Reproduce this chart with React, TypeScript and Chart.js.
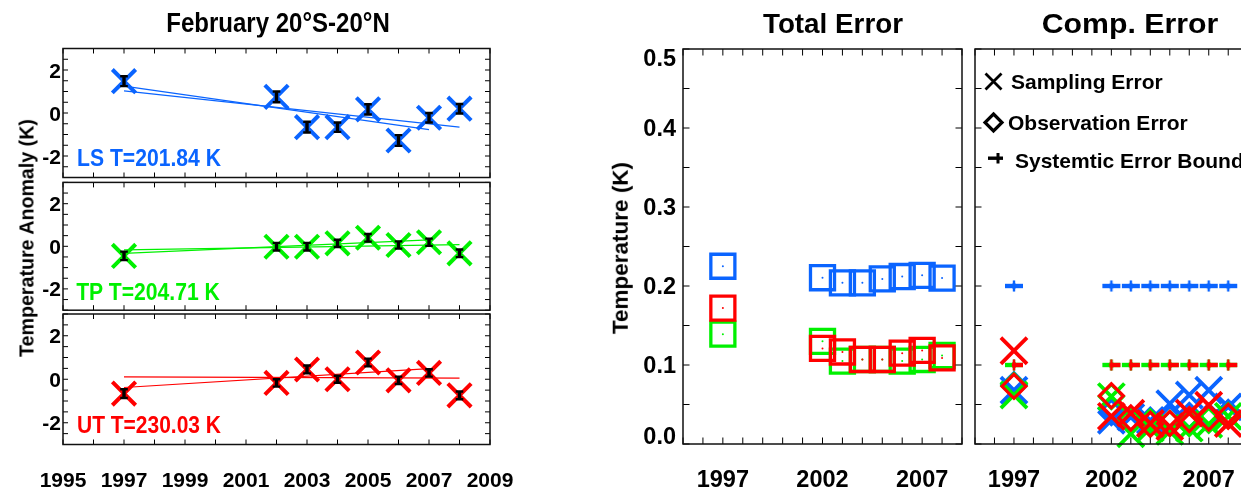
import React, { useEffect, useRef } from 'react';
import { Chart, registerables } from 'chart.js';
Chart.register(...registerables);

const FONT = "'Liberation Sans', Arial, Helvetica, sans-serif";
const BLUE = '#0a64ff';
const GREEN = '#00f000';
const RED = '#ff0000';

// ---- data ----
const YEARS = [1997, 2002, 2003, 2004, 2005, 2006, 2007, 2008];
const X_TICK_LABELS_LEFT = [1995, 1997, 1999, 2001, 2003, 2005, 2007, 2009];
const X_TICK_LABELS_RIGHT = [1997, 2002, 2007];

const LS_ANOM = [1.48, 0.75, -0.66, -0.66, 0.17, -1.28, -0.22, 0.2];
const LS_ERR = [0.23, 0.25, 0.25, 0.22, 0.24, 0.25, 0.22, 0.22];
const TP_ANOM = [-0.45, -0.02, -0.02, 0.14, 0.4, 0.06, 0.19, -0.33];
const TP_ERR = [0.2, 0.18, 0.18, 0.17, 0.18, 0.17, 0.17, 0.18];
const UT_ANOM = [-0.66, -0.17, 0.45, 0.0, 0.77, -0.05, 0.29, -0.74];
const UT_ERR = [0.2, 0.17, 0.18, 0.16, 0.18, 0.17, 0.17, 0.18];

const TREND_A_YEARS = [1997, 2007];
const TREND_B_YEARS = [1997, 2008];
const LS_TREND_A = [1.25, -0.77];
const LS_TREND_B = [1.03, -0.66];
const TP_TREND_A = [-0.33, 0.3];
const TP_TREND_B = [-0.17, 0.08];
const UT_TREND_A = [-0.38, 0.49];
const UT_TREND_B = [0.11, 0.05];

const TOTAL_LS = [0.225, 0.2105, 0.204, 0.204, 0.209, 0.212, 0.2135, 0.21];
const TOTAL_TP = [0.139, 0.13, 0.105, 0.107, 0.107, 0.105, 0.107, 0.112];
const TOTAL_UT = [0.172, 0.121, 0.1165, 0.107, 0.107, 0.115, 0.1185, 0.109];

const SAMP_LS = [0.068, 0.03, 0.034, 0.03, 0.051, 0.062, 0.068, 0.047];
const SAMP_TP = [0.062, 0.06, 0.013, 0.02, 0.016, 0.02, 0.025, 0.035];
const SAMP_UT = [0.118, 0.035, 0.039, 0.026, 0.022, 0.039, 0.049, 0.026];
const OBS_LS = [0.075, 0.04, 0.032, 0.03, 0.032, 0.036, 0.035, 0.04];
const OBS_TP = [0.074, 0.06, 0.03, 0.028, 0.026, 0.026, 0.03, 0.036];
const OBS_UT = [0.073, 0.061, 0.033, 0.025, 0.026, 0.031, 0.033, 0.035];
const SYS_LS = [0.2, 0.2, 0.2, 0.2, 0.2, 0.2, 0.2, 0.2];
const SYS_TP = [0.1, 0.1, 0.1, 0.1, 0.1, 0.1, 0.1, 0.1];
const SYS_UT = [0.1, 0.1, 0.1, 0.1, 0.1, 0.1, 0.1, 0.1];

const pts = (xs: number[], ys: number[]) => xs.map((x, i) => ({ x, y: ys[i] }));

function makePlus(color: string, rightHalf: boolean) {
  const c = document.createElement('canvas');
  c.width = 22;
  c.height = 14;
  const g = c.getContext('2d')!;
  g.fillStyle = color;
  if (rightHalf) g.fillRect(11, 4.8, 9, 4.4);
  else g.fillRect(2, 4.8, 18, 4.4);
  g.beginPath();
  g.moveTo(11, 1.2);
  g.lineTo(13.4, 7);
  g.lineTo(11, 12.8);
  g.lineTo(8.6, 7);
  g.closePath();
  g.fill();
  g.fillRect(9.8, 1.5, 2.4, 11);
  return c;
}

function makeFrame(o: { tickLen: number; yFont?: number; yPad?: number; yLabel?: (v: number) => string }) {
  return {
    id: 'frame',
    afterDraw(chart: any) {
      const { ctx, chartArea: a, scales } = chart;
      const L = o.tickLen;
      ctx.save();
      ctx.strokeStyle = '#000';
      ctx.lineWidth = 1;
      ctx.beginPath();
      scales.x.ticks.forEach((t: any) => {
        const px = scales.x.getPixelForValue(t.value);
        ctx.moveTo(px, a.bottom);
        ctx.lineTo(px, a.bottom - L);
        ctx.moveTo(px, a.top);
        ctx.lineTo(px, a.top + L);
      });
      scales.y.ticks.forEach((t: any) => {
        const py = scales.y.getPixelForValue(t.value);
        ctx.moveTo(a.left, py);
        ctx.lineTo(a.left + L, py);
        ctx.moveTo(a.right, py);
        ctx.lineTo(a.right - L, py);
      });
      ctx.stroke();
      ctx.lineWidth = 1.5;
      ctx.strokeStyle = '#111';
      ctx.strokeRect(a.left, a.top, a.right - a.left, a.bottom - a.top);
      if (o.yLabel && o.yFont) {
        const fs = o.yFont;
        const cap = fs * 0.716;
        ctx.font = `bold ${fs}px ${FONT}`;
        ctx.fillStyle = '#000';
        ctx.textAlign = 'right';
        ctx.textBaseline = 'alphabetic';
        scales.y.ticks.forEach((t: any) => {
          const lab = o.yLabel!(t.value);
          if (!lab) return;
          let py = scales.y.getPixelForValue(t.value);
          py = Math.min(Math.max(py, a.top + cap / 2), a.bottom - cap / 2);
          ctx.fillText(lab, a.left - (o.yPad || 2), py + cap / 2);
        });
      }
      ctx.restore();
    },
  };
}

function makeErrorBars(vals: number[], errs: number[]) {
  return {
    id: 'errbars',
    afterDatasetsDraw(chart: any) {
      const { ctx, scales } = chart;
      ctx.save();
      ctx.strokeStyle = '#000';
      YEARS.forEach((yr, i) => {
        const px = scales.x.getPixelForValue(yr);
        const t = scales.y.getPixelForValue(vals[i] + errs[i]);
        const b = scales.y.getPixelForValue(vals[i] - errs[i]);
        ctx.lineWidth = 3.4;
        ctx.beginPath();
        ctx.moveTo(px, t);
        ctx.lineTo(px, b);
        ctx.stroke();
        ctx.lineWidth = 2.4;
        ctx.beginPath();
        ctx.moveTo(px - 3.8, t);
        ctx.lineTo(px + 3.8, t);
        ctx.moveTo(px - 3.8, b);
        ctx.lineTo(px + 3.8, b);
        ctx.stroke();
      });
      ctx.restore();
    },
  };
}

const legendPlugin = {
  id: 'complegend',
  afterDraw(chart: any) {
    const { ctx, chartArea: a } = chart;
    const l = a.left;
    const t = a.top;
    ctx.save();
    ctx.strokeStyle = '#000';
    ctx.fillStyle = '#000';
    // X
    ctx.lineWidth = 2.8;
    ctx.beginPath();
    ctx.moveTo(l + 10.5, t + 24.5);
    ctx.lineTo(l + 26.5, t + 40.5);
    ctx.moveTo(l + 26.5, t + 24.5);
    ctx.lineTo(l + 10.5, t + 40.5);
    ctx.stroke();
    // diamond
    ctx.lineWidth = 3.2;
    ctx.beginPath();
    ctx.moveTo(l + 18.5, t + 65);
    ctx.lineTo(l + 27, t + 73.5);
    ctx.lineTo(l + 18.5, t + 82);
    ctx.lineTo(l + 10, t + 73.5);
    ctx.closePath();
    ctx.stroke();
    // plus
    ctx.fillRect(l + 13, t + 107.5, 15, 3.4);
    ctx.fillRect(l + 21.5, t + 104, 3, 10.5);
    ctx.font = `bold 21px ${FONT}`;
    ctx.textAlign = 'left';
    ctx.textBaseline = 'alphabetic';
    ctx.fillText('Sampling Error', l + 36, t + 40.3);
    ctx.fillText('Observation Error', l + 33, t + 81);
    ctx.fillText('Systemtic Error Bound', l + 40, t + 119.3);
    ctx.restore();
  },
};

function leftConfig(vals: number[], errs: number[], ta: number[], tb: number[], color: string, top: number, bottom: number, showX: boolean) {
  const xH = showX ? 492 - bottom : 0;
  return {
    type: 'scatter',
    data: {
      datasets: [
        {
          data: pts(YEARS, vals),
          pointStyle: 'crossRot',
          pointRadius: 16.5,
          pointBorderWidth: 4,
          borderColor: color,
          backgroundColor: color,
        },
        { type: 'line', data: pts(TREND_A_YEARS, ta), borderColor: color, borderWidth: 1.2, pointRadius: 0, fill: false },
        { type: 'line', data: pts(TREND_B_YEARS, tb), borderColor: color, borderWidth: 1.2, pointRadius: 0, fill: false },
      ],
    },
    options: {
      responsive: false,
      animation: false,
      events: [],
      layout: { padding: { left: 0, top, right: 1241 - 490, bottom: 492 - bottom - xH } },
      plugins: { legend: { display: false }, tooltip: { enabled: false } },
      scales: {
        x: {
          type: 'linear',
          min: 1995,
          max: 2009,
          afterFit: (s: any) => { s.height = xH; s.paddingLeft = 0; s.paddingRight = 0; },
          grid: { display: false, drawTicks: false },
          border: { display: false },
          ticks: {
            display: showX,
            stepSize: 1,
            autoSkip: false,
            maxRotation: 0,
            padding: 24,
            color: '#000',
            font: { family: FONT, size: 21, weight: 'bold' },
            callback: (v: number) => (X_TICK_LABELS_LEFT.includes(v) ? String(v) : ''),
          },
        },
        y: {
          type: 'linear',
          min: -3,
          max: 3,
          afterFit: (s: any) => { s.width = 63; s.paddingTop = 0; s.paddingBottom = 0; },
          grid: { display: false, drawTicks: false },
          border: { display: false },
          ticks: { display: false, stepSize: 0.5, autoSkip: false },
        },
      },
    },
    plugins: [
      makeErrorBars(vals, errs),
      makeFrame({
        tickLen: 5,
        yFont: 21,
        yPad: 2,
        yLabel: (v: number) => (Math.abs(v - Math.round(v)) < 1e-6 && Math.round(v) % 2 === 0 ? String(Math.round(v)) : ''),
      }),
    ],
  };
}

function rightScales(yWidth: number) {
  return {
    x: {
      type: 'linear',
      min: 1995,
      max: 2009,
      afterFit: (s: any) => { s.height = 48; s.paddingLeft = 0; s.paddingRight = 0; },
      grid: { display: false, drawTicks: false },
      border: { display: false },
      ticks: {
        stepSize: 1,
        autoSkip: false,
        maxRotation: 0,
        padding: 22,
        color: '#000',
        font: { family: FONT, size: 23.5, weight: 'bold' },
        callback: (v: number) => (X_TICK_LABELS_RIGHT.includes(v) ? String(v) : ''),
      },
    },
    y: {
      type: 'linear',
      min: 0,
      max: 0.5,
      afterFit: (s: any) => { s.width = yWidth; s.paddingTop = 0; s.paddingBottom = 0; },
      grid: { display: false, drawTicks: false },
      border: { display: false },
      ticks: { display: false, stepSize: 0.05, autoSkip: false },
    },
  };
}

const tenths = (v: number) => (Math.abs(v * 10 - Math.round(v * 10)) < 1e-6 ? (Math.round(v * 10) / 10).toFixed(1) : '');

function middleConfig() {
  const sq = (vals: number[], color: string) => ({
    data: pts(YEARS, vals),
    pointStyle: 'rect',
    pointRadius: 17,
    pointBorderWidth: 3.3,
    borderColor: color,
    backgroundColor: 'rgba(0,0,0,0)',
  });
  const dot = (vals: number[], color: string) => ({
    data: pts(YEARS, vals),
    pointStyle: 'circle',
    pointRadius: 1,
    pointBorderWidth: 0,
    borderColor: color,
    backgroundColor: color,
  });
  return {
    type: 'scatter',
    data: {
      datasets: [
        dot(TOTAL_UT, RED), dot(TOTAL_TP, GREEN), dot(TOTAL_LS, BLUE),
        sq(TOTAL_UT, RED), sq(TOTAL_TP, GREEN), sq(TOTAL_LS, BLUE),
      ],
    },
    options: {
      responsive: false,
      animation: false,
      events: [],
      layout: { padding: { left: 600, top: 49, right: 1241 - 962, bottom: 0 } },
      plugins: { legend: { display: false }, tooltip: { enabled: false } },
      scales: rightScales(83),
    },
    plugins: [makeFrame({ tickLen: 6.5, yFont: 23.5, yPad: 7, yLabel: tenths })],
  };
}

function compConfig() {
  const plusBlue = makePlus(BLUE, false);
  const plusGreen = makePlus(GREEN, false);
  const plusRed = makePlus(RED, true);
  const x = (vals: number[], color: string) => ({
    data: pts(YEARS, vals),
    pointStyle: 'crossRot',
    pointRadius: 18.5,
    pointBorderWidth: 3.8,
    borderColor: color,
    backgroundColor: color,
    clip: false,
  });
  const dia = (vals: number[], color: string) => ({
    data: pts(YEARS, vals),
    pointStyle: 'rectRot',
    pointRadius: 12,
    pointBorderWidth: 3.2,
    borderColor: color,
    backgroundColor: 'rgba(0,0,0,0)',
    clip: false,
  });
  const plus = (vals: number[], img: HTMLCanvasElement) => ({
    data: pts(YEARS, vals),
    pointStyle: img,
    pointRadius: 10,
    clip: false,
  });
  return {
    type: 'scatter',
    data: {
      datasets: [
        plus(SYS_UT, plusRed), plus(SYS_TP, plusGreen), plus(SYS_LS, plusBlue),
        x(SAMP_UT, RED), dia(OBS_UT, RED),
        dia(OBS_TP, GREEN), x(SAMP_TP, GREEN),
        dia(OBS_LS, BLUE), x(SAMP_LS, BLUE),
      ],
    },
    options: {
      responsive: false,
      animation: false,
      events: [],
      layout: { padding: { left: 960, top: 49, right: 1270 - 1255, bottom: 0 } },
      plugins: { legend: { display: false }, tooltip: { enabled: false } },
      scales: rightScales(15),
    },
    plugins: [makeFrame({ tickLen: 6.5 }), legendPlugin],
  };
}

function ChartCanvas({ build, width }: { build: () => any; width: number }) {
  const ref = useRef<HTMLCanvasElement>(null);
  useEffect(() => {
    const chart = new Chart(ref.current as HTMLCanvasElement, build());
    return () => chart.destroy();
  }, []);
  return (
    <canvas
      ref={ref}
      width={width}
      height={492}
      style={{ position: 'absolute', left: 0, top: 0, width, height: 492 }}
    />
  );
}

function Txt({ text, x, y, size, sx = 1, color = '#000', rot = false }: any) {
  return (
    <div
      style={{
        position: 'absolute',
        left: x,
        top: y,
        transform: `translate(-50%, -50%)${rot ? ' rotate(-90deg)' : ''} scaleX(${sx})`,
        fontFamily: FONT,
        fontWeight: 'bold',
        fontSize: size,
        lineHeight: 1,
        whiteSpace: 'nowrap',
        color,
      }}
    >
      {text}
    </div>
  );
}

export default function App() {
  return (
    <div
      style={{
        position: 'absolute',
        left: 0,
        top: 0,
        width: 1241,
        height: 492,
        overflow: 'hidden',
        background: '#fff',
      }}
    >
      <ChartCanvas width={1241} build={() => leftConfig(LS_ANOM, LS_ERR, LS_TREND_A, LS_TREND_B, BLUE, 48.5, 177.5, false)} />
      <ChartCanvas width={1241} build={() => leftConfig(TP_ANOM, TP_ERR, TP_TREND_A, TP_TREND_B, GREEN, 182.4, 310.2, false)} />
      <ChartCanvas width={1241} build={() => leftConfig(UT_ANOM, UT_ERR, UT_TREND_A, UT_TREND_B, RED, 314, 444.5, true)} />
      <ChartCanvas width={1241} build={middleConfig} />
      <ChartCanvas width={1270} build={compConfig} />

      <Txt text="February 20°S-20°N" x={278} y={23} size={27} sx={0.89} />
      <Txt text="Total Error" x={833} y={23.5} size={27} sx={1.03} />
      <Txt text="Comp. Error" x={1130} y={23.5} size={27} sx={1.12} />
      <Txt text="Temperature Anomaly (K)" x={26} y={238} size={21} sx={0.935} rot />
      <Txt text="Temperature (K)" x={621} y={247.5} size={22.5} sx={1} rot />
      <Txt text="LS T=201.84 K" x={148.7} y={157.8} size={24.5} sx={0.863} color={BLUE} />
      <Txt text="TP T=204.71 K" x={148.3} y={291.7} size={24.5} sx={0.863} color={GREEN} />
      <Txt text="UT T=230.03 K" x={148.7} y={425} size={24.5} sx={0.856} color={RED} />
    </div>
  );
}
